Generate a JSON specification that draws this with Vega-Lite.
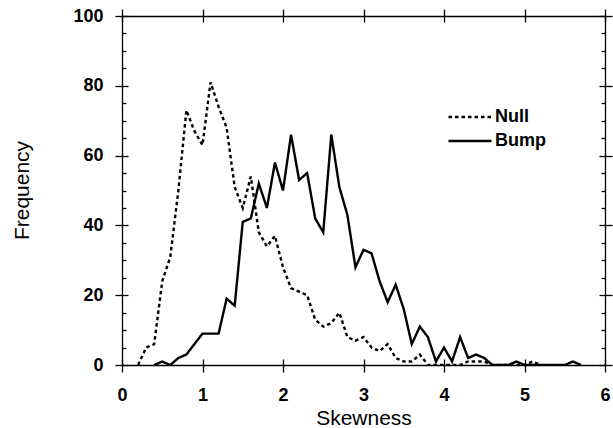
{
  "$schema": "https://vega.github.io/schema/vega-lite/v6.json",
  "width": 483,
  "height": 349,
  "autosize": {"type": "none"},
  "padding": {"left": 122, "top": 16, "right": 8, "bottom": 63},
  "background": "white",
  "config": {
    "view": {"stroke": null},
    "axis": {
      "grid": false,
      "domainColor": "black",
      "tickColor": "black",
      "labelColor": "black",
      "titleColor": "black",
      "labelFont": "Liberation Sans",
      "titleFont": "Liberation Sans",
      "labelFontWeight": "bold",
      "labelFontSize": 18,
      "titleFontSize": 21,
      "titleFontWeight": "normal",
      "tickWidth": 1.3,
      "domainWidth": 1.3
    },
    "legend": {
      "labelFont": "Liberation Sans",
      "labelFontWeight": "bold",
      "labelFontSize": 18,
      "labelColor": "black"
    }
  },
  "data": {
    "values": [
      {"skew": 0.2, "freq": 0, "series": "Null"},
      {"skew": 0.3, "freq": 5, "series": "Null"},
      {"skew": 0.4, "freq": 6, "series": "Null"},
      {"skew": 0.5, "freq": 24, "series": "Null"},
      {"skew": 0.6, "freq": 31, "series": "Null"},
      {"skew": 0.7, "freq": 50, "series": "Null"},
      {"skew": 0.8, "freq": 73, "series": "Null"},
      {"skew": 0.9, "freq": 67, "series": "Null"},
      {"skew": 1.0, "freq": 63, "series": "Null"},
      {"skew": 1.1, "freq": 81, "series": "Null"},
      {"skew": 1.2, "freq": 74, "series": "Null"},
      {"skew": 1.3, "freq": 68, "series": "Null"},
      {"skew": 1.4, "freq": 51, "series": "Null"},
      {"skew": 1.5, "freq": 45, "series": "Null"},
      {"skew": 1.6, "freq": 54, "series": "Null"},
      {"skew": 1.7, "freq": 38, "series": "Null"},
      {"skew": 1.8, "freq": 34, "series": "Null"},
      {"skew": 1.9, "freq": 37, "series": "Null"},
      {"skew": 2.0, "freq": 28, "series": "Null"},
      {"skew": 2.1, "freq": 22, "series": "Null"},
      {"skew": 2.2, "freq": 21, "series": "Null"},
      {"skew": 2.3, "freq": 20, "series": "Null"},
      {"skew": 2.4, "freq": 13, "series": "Null"},
      {"skew": 2.5, "freq": 11, "series": "Null"},
      {"skew": 2.6, "freq": 12, "series": "Null"},
      {"skew": 2.7, "freq": 15, "series": "Null"},
      {"skew": 2.8, "freq": 8, "series": "Null"},
      {"skew": 2.9, "freq": 7, "series": "Null"},
      {"skew": 3.0, "freq": 8, "series": "Null"},
      {"skew": 3.1, "freq": 5, "series": "Null"},
      {"skew": 3.2, "freq": 4, "series": "Null"},
      {"skew": 3.3, "freq": 6, "series": "Null"},
      {"skew": 3.4, "freq": 2, "series": "Null"},
      {"skew": 3.5, "freq": 1, "series": "Null"},
      {"skew": 3.6, "freq": 1, "series": "Null"},
      {"skew": 3.7, "freq": 3, "series": "Null"},
      {"skew": 3.8, "freq": 0, "series": "Null"},
      {"skew": 3.9, "freq": 0, "series": "Null"},
      {"skew": 4.0, "freq": 0, "series": "Null"},
      {"skew": 4.1, "freq": 0, "series": "Null"},
      {"skew": 4.2, "freq": 0, "series": "Null"},
      {"skew": 4.3, "freq": 1, "series": "Null"},
      {"skew": 4.4, "freq": 1, "series": "Null"},
      {"skew": 4.5, "freq": 1, "series": "Null"},
      {"skew": 4.6, "freq": 0, "series": "Null"},
      {"skew": 4.7, "freq": 0, "series": "Null"},
      {"skew": 4.8, "freq": 0, "series": "Null"},
      {"skew": 4.9, "freq": 0, "series": "Null"},
      {"skew": 5.0, "freq": 0, "series": "Null"},
      {"skew": 5.1, "freq": 1, "series": "Null"},
      {"skew": 5.2, "freq": 0, "series": "Null"},
      {"skew": 0.4, "freq": 0, "series": "Bump"},
      {"skew": 0.5, "freq": 1, "series": "Bump"},
      {"skew": 0.6, "freq": 0, "series": "Bump"},
      {"skew": 0.7, "freq": 2, "series": "Bump"},
      {"skew": 0.8, "freq": 3, "series": "Bump"},
      {"skew": 0.9, "freq": 6, "series": "Bump"},
      {"skew": 1.0, "freq": 9, "series": "Bump"},
      {"skew": 1.1, "freq": 9, "series": "Bump"},
      {"skew": 1.2, "freq": 9, "series": "Bump"},
      {"skew": 1.3, "freq": 19, "series": "Bump"},
      {"skew": 1.4, "freq": 17, "series": "Bump"},
      {"skew": 1.5, "freq": 41, "series": "Bump"},
      {"skew": 1.6, "freq": 42, "series": "Bump"},
      {"skew": 1.7, "freq": 52, "series": "Bump"},
      {"skew": 1.8, "freq": 45, "series": "Bump"},
      {"skew": 1.9, "freq": 58, "series": "Bump"},
      {"skew": 2.0, "freq": 50, "series": "Bump"},
      {"skew": 2.1, "freq": 66, "series": "Bump"},
      {"skew": 2.2, "freq": 53, "series": "Bump"},
      {"skew": 2.3, "freq": 55, "series": "Bump"},
      {"skew": 2.4, "freq": 42, "series": "Bump"},
      {"skew": 2.5, "freq": 38, "series": "Bump"},
      {"skew": 2.6, "freq": 66, "series": "Bump"},
      {"skew": 2.7, "freq": 51, "series": "Bump"},
      {"skew": 2.8, "freq": 43, "series": "Bump"},
      {"skew": 2.9, "freq": 28, "series": "Bump"},
      {"skew": 3.0, "freq": 33, "series": "Bump"},
      {"skew": 3.1, "freq": 32, "series": "Bump"},
      {"skew": 3.2, "freq": 24, "series": "Bump"},
      {"skew": 3.3, "freq": 18, "series": "Bump"},
      {"skew": 3.4, "freq": 23, "series": "Bump"},
      {"skew": 3.5, "freq": 16, "series": "Bump"},
      {"skew": 3.6, "freq": 6, "series": "Bump"},
      {"skew": 3.7, "freq": 11, "series": "Bump"},
      {"skew": 3.8, "freq": 8, "series": "Bump"},
      {"skew": 3.9, "freq": 1, "series": "Bump"},
      {"skew": 4.0, "freq": 5, "series": "Bump"},
      {"skew": 4.1, "freq": 1, "series": "Bump"},
      {"skew": 4.2, "freq": 8, "series": "Bump"},
      {"skew": 4.3, "freq": 2, "series": "Bump"},
      {"skew": 4.4, "freq": 3, "series": "Bump"},
      {"skew": 4.5, "freq": 2, "series": "Bump"},
      {"skew": 4.6, "freq": 0, "series": "Bump"},
      {"skew": 4.7, "freq": 0, "series": "Bump"},
      {"skew": 4.8, "freq": 0, "series": "Bump"},
      {"skew": 4.9, "freq": 1, "series": "Bump"},
      {"skew": 5.0, "freq": 0, "series": "Bump"},
      {"skew": 5.1, "freq": 0, "series": "Bump"},
      {"skew": 5.2, "freq": 0, "series": "Bump"},
      {"skew": 5.3, "freq": 0, "series": "Bump"},
      {"skew": 5.4, "freq": 0, "series": "Bump"},
      {"skew": 5.5, "freq": 0, "series": "Bump"},
      {"skew": 5.6, "freq": 1, "series": "Bump"},
      {"skew": 5.7, "freq": 0, "series": "Bump"}
    ]
  },
  "layer": [
    {
      "mark": {"type": "line", "color": "black", "strokeWidth": 2.4, "clip": true},
      "encoding": {
        "x": {
          "field": "skew", "type": "quantitative",
          "scale": {"domain": [0, 6], "nice": false, "zero": false},
          "axis": {"orient": "bottom", "values": [0, 1, 2, 3, 4, 5, 6], "format": "d", "tickSize": 7, "labelPadding": 28, "labelBaseline": "alphabetic", "labelFlush": false, "title": "Skewness", "titleBaseline": "alphabetic", "titleY": 59}
        },
        "y": {
          "field": "freq", "type": "quantitative",
          "scale": {"domain": [0, 100], "nice": false},
          "axis": {"orient": "left", "values": [0, 20, 40, 60, 80, 100], "tickSize": 7, "labelPadding": 12, "labelFlush": false, "title": "Frequency", "titleAngle": -90, "titleBaseline": "alphabetic", "titleX": -94, "titleY": 174}
        },
        "strokeDash": {
          "field": "series", "type": "nominal",
          "scale": {"domain": ["Null", "Bump"], "range": [[3.5, 3], [1, 0]]},
          "legend": {"orient": "none", "legendX": 325, "legendY": 89, "title": null, "symbolType": "stroke", "symbolSize": 1849, "symbolStrokeWidth": 2.4, "symbolStrokeColor": "black", "labelOffset": 2, "rowPadding": 0, "clipHeight": 24}
        }
      }
    },
    {
      "mark": {"type": "point", "opacity": 0},
      "encoding": {
        "x": {"field": "skew", "type": "quantitative", "axis": {"orient": "bottom", "values": [0, 1, 2, 3, 4, 5, 6], "tickSize": -6, "labels": false, "domain": false, "title": null}},
        "y": {"field": "freq", "type": "quantitative", "axis": {"orient": "left", "values": [0, 20, 40, 60, 80, 100], "tickSize": -6, "labels": false, "domain": false, "title": null}}
      }
    },
    {
      "mark": {"type": "point", "opacity": 0},
      "encoding": {
        "x": {"field": "skew", "type": "quantitative", "axis": {"orient": "top", "values": [0, 1, 2, 3, 4, 5, 6], "tickSize": 7, "labels": false, "title": null}},
        "y": {"field": "freq", "type": "quantitative", "axis": {"orient": "right", "values": [0, 20, 40, 60, 80, 100], "tickSize": 7, "labels": false, "title": null}}
      }
    },
    {
      "mark": {"type": "point", "opacity": 0},
      "encoding": {
        "x": {"field": "skew", "type": "quantitative", "axis": {"orient": "top", "values": [0, 1, 2, 3, 4, 5, 6], "tickSize": -6, "labels": false, "domain": false, "title": null}},
        "y": {"field": "freq", "type": "quantitative", "axis": {"orient": "right", "values": [0, 20, 40, 60, 80, 100], "tickSize": -6, "labels": false, "domain": false, "title": null}}
      }
    },
    {
      "mark": {"type": "point", "opacity": 0},
      "encoding": {
        "x": {"field": "skew", "type": "quantitative", "axis": null},
        "y": {"field": "freq", "type": "quantitative", "axis": {"orient": "left", "values": [5, 10, 15, 25, 30, 35, 45, 50, 55, 65, 70, 75, 85, 90, 95], "tickSize": -4, "labels": false, "domain": false, "title": null}}
      }
    },
    {
      "mark": {"type": "point", "opacity": 0},
      "encoding": {
        "x": {"field": "skew", "type": "quantitative", "axis": null},
        "y": {"field": "freq", "type": "quantitative", "axis": {"orient": "right", "values": [5, 10, 15, 25, 30, 35, 45, 50, 55, 65, 70, 75, 85, 90, 95], "tickSize": -4, "labels": false, "domain": false, "title": null}}
      }
    }
  ],
  "resolve": {"axis": {"x": "independent", "y": "independent"}}
}
